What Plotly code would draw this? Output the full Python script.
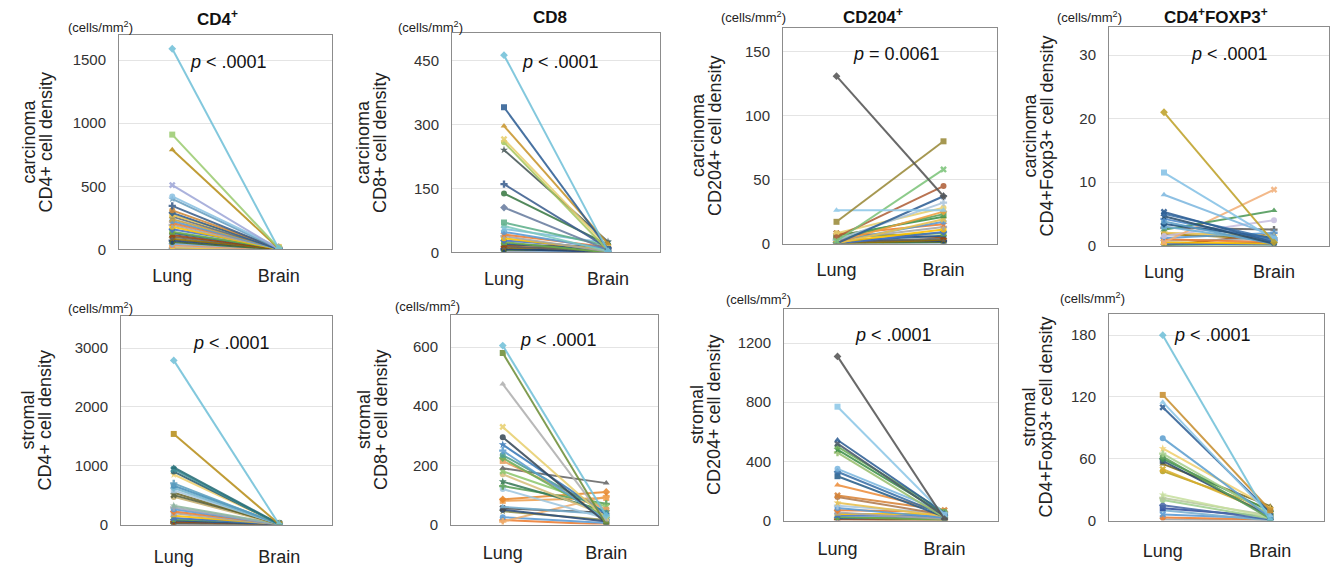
import plotly.graph_objects as go

W, H = 1332, 570
FONT = "Liberation Sans, Arial, sans-serif"

categories = ["Lung", "Brain"]

# ---------------- data (cells/mm2) ----------------
carc_cd4_lung = [1590, 910, 790, 510, 420, 400, 345, 310, 290, 275, 260, 240, 225, 210, 195, 180,
                 160, 140, 130, 115, 100, 85, 70, 60, 45, 35, 25, 15, 10, 5, 0, 0]
carc_cd4_brain = [5, 10, 8, 3, 15, 6, 2, 12, 4, 20, 7, 9, 3, 14, 5, 2,
                  18, 6, 10, 3, 8, 4, 12, 2, 6, 1, 3, 0, 5, 2, 0, 1]

carc_cd8_lung = [462, 340, 296, 265, 258, 240, 160, 138, 105, 70, 62, 55, 48, 42, 38, 33,
                 28, 24, 20, 17, 14, 11, 8, 6, 4, 2]
carc_cd8_brain = [3, 8, 20, 12, 5, 25, 10, 18, 6, 15, 3, 22, 8, 12, 2, 5,
                  10, 0, 7, 14, 3, 9, 1, 5, 2, 0]

carc_cd204_lung = [131, 17, 26, 2, 5, 0, 3, 8, 1, 4, 6, 0, 2, 7, 3, 1,
                   0, 5, 2, 8, 1, 0, 3, 0, 1, 2]
carc_cd204_brain = [37, 80, 26, 58, 45, 37, 32, 28, 25, 23, 21, 19, 17, 15, 13, 11,
                    9, 8, 6, 5, 4, 3, 2, 1, 0, 2]

carc_foxp3_lung = [21, 11.5, 8, 5.3, 5, 4.6, 4.2, 3.8, 3.4, 3, 2.5, 0.5, 1.5, 2, 1.2, 1,
                   0.8, 0.5, 0.3, 0, 0, 0, 2.8, 1.8]
carc_foxp3_brain = [0.5, 1, 1.5, 0.5, 1, 0.3, 0.8, 0.2, 1.2, 0.5, 5.5, 8.8, 4, 1.5, 2, 0.5,
                    1, 0.3, 0.1, 0, 0.5, 1.8, 2.5, 1]

strom_cd4_lung = [2790, 1540, 970, 940, 900, 850, 700, 660, 620, 580, 540, 500, 470, 320, 290, 260,
                  220, 190, 150, 110, 90, 70, 50, 30, 20, 10]
strom_cd4_brain = [0, 5, 10, 2, 8, 15, 3, 20, 6, 12, 4, 25, 7, 10, 3, 5,
                   15, 2, 8, 6, 30, 4, 10, 2, 5, 0]

strom_cd8_lung = [605, 580, 475, 330, 295, 270, 250, 235, 225, 215, 190, 180, 170, 145, 130, 120,
                  85, 80, 60, 55, 50, 45, 10, 25, 15]
strom_cd8_brain = [30, 0, 10, 20, 5, 35, 15, 40, 25, 50, 140, 60, 30, 45, 70, 20,
                   110, 90, 35, 40, 10, 15, 95, 5, 0]

strom_cd204_lung = [1110, 770, 545, 520, 500, 480, 460, 350, 330, 300, 240, 170, 160, 120, 100, 85,
                    70, 55, 45, 35, 25, 15, 8]
strom_cd204_brain = [10, 40, 50, 30, 60, 45, 20, 55, 35, 25, 65, 70, 40, 30, 50, 20,
                     60, 10, 45, 30, 5, 15, 0]

strom_foxp3_lung = [180, 122, 115, 110, 80, 70, 65, 62, 60, 58, 55, 50, 48, 25, 22, 20,
                    15, 12, 10, 6, 3, 1]
strom_foxp3_brain = [0, 10, 5, 8, 3, 12, 6, 2, 9, 4, 14, 7, 11, 3, 5, 2,
                     1, 4, 0, 2, 1, 0]

panel_titles = ["CD4<sup>+</sup>", "CD8", "CD204<sup>+</sup>", "CD4<sup>+</sup>FOXP3<sup>+</sup>",
                "", "", "", ""]
p_labels = ["<i>p</i> &lt; .0001", "<i>p</i> &lt; .0001", "<i>p</i> = 0.0061", "<i>p</i> &lt; .0001",
            "<i>p</i> &lt; .0001", "<i>p</i> &lt; .0001", "<i>p</i> &lt; .0001", "<i>p</i> &lt; .0001"]
ytitle_top = ["carcinoma", "carcinoma", "carcinoma", "carcinoma", "stromal", "stromal", "stromal", "stromal"]
ytitle_bottom = ["CD4+ cell density", "CD8+ cell density", "CD204+ cell density", "CD4+Foxp3+ cell density"] * 2
tick_values = [[0, 500, 1000, 1500], [0, 150, 300, 450], [0, 50, 100, 150], [0, 10, 20, 30],
               [0, 1000, 2000, 3000], [0, 200, 400, 600], [0, 400, 800, 1200], [0, 60, 120, 180]]
y_max = [1703, 515, 169, 34.5, 3553, 710, 1433, 201]

panels = [
    (carc_cd4_lung, carc_cd4_brain), (carc_cd8_lung, carc_cd8_brain),
    (carc_cd204_lung, carc_cd204_brain), (carc_foxp3_lung, carc_foxp3_brain),
    (strom_cd4_lung, strom_cd4_brain), (strom_cd8_lung, strom_cd8_brain),
    (strom_cd204_lung, strom_cd204_brain), (strom_foxp3_lung, strom_foxp3_brain),
]

# ---------------- styles ----------------
CYCLE = ['#5b9bd5', '#ed7d31', '#a5a5a5', '#ffc000', '#4472c4', '#70ad47', '#255e91', '#9e480e',
         '#636363', '#997300', '#264478', '#43682b', '#7cafdd', '#f1975a', '#b7b7b7', '#ffcd33',
         '#698ed0', '#8cc168', '#2e75b6', '#c55a11']
LEADS = [
    ['#72c1d9', '#9ccc72', '#b8901c', '#a0a8d8', '#8ec2e2', '#6a9fc0', '#3d5f8a', '#d08a3a',
     '#2f5f95', '#e8c050', '#5f6f7f', '#c9a040'],
    ['#72c1d9', '#2f5f95', '#c9962e', '#e8d070', '#a8c860', '#4a5a5a', '#3f5f8f', '#3f7a4a',
     '#6a7fa0', '#5fb08a', '#7fc9c0', '#7fbfd9'],
    ['#555555', '#9a8a3a', '#8ec8e8', '#7dc47a', '#b0603a', '#2f5f95', '#aac4dc', '#e8d070',
     '#f0a040', '#5aa05a', '#3f8f4a', '#e8c050'],
    ['#bfa22a', '#86c2e6', '#7fb8e0', '#2f5f95', '#3a70a8', '#2a5070', '#4a86c8', '#5fa0c8',
     '#1f4f7f', '#6fb0d8', '#4f9a5a', '#f2b07a', '#c8c0e0', '#e8c050'],
    ['#72c1d9', '#b8901c', '#2a6f78', '#3f8f98', '#2f5f6f', '#f0d070', '#5fa0c0', '#4a90b8',
     '#78b8d0', '#a8c8e0', '#6f6a30', '#556040', '#c8b070', '#8fb8a0', '#a0a8b8'],
    ['#72c1d9', '#6f8f3a', '#b0b0b0', '#e8d070', '#3a4a5a', '#3a7ab8', '#5f9fd0', '#4f9f8f',
     '#6faf5a', '#e8a060', '#666666', '#8fc870', '#d8c080', '#3a7a5a', '#5aa05a', '#a0c8e0',
     '#e88a30', '#f0a050', '#7ab0d0', '#4a4a4a', '#2f4f7f', '#8f8f4f', '#f0b070'],
    ['#555555', '#8ec8e8', '#2f5f95', '#4a5a6a', '#6faf5a', '#3f8f4a', '#9ac070', '#7fb8e0',
     '#3a70a8', '#2a5f8a', '#ed8f40', '#d8843a', '#b07a50', '#e8c050', '#aac8e0'],
    ['#72c1d9', '#c89030', '#8ec8e8', '#2f5f95', '#5fa0d0', '#f0d070', '#a8d08d', '#5fa05a',
     '#3f8f5a', '#2f4f6f', '#7a6a20', '#d8b030', '#b8a020', '#c8e0a0', '#b8c8a0', '#a0d090',
     '#4a6aa8', '#2f4f9f', '#7ab0d0'],
]
SYMBOLS = ['diamond', 'square', 'triangle-up', 'x', 'circle', 'star', 'cross', 'circle']

# pixel boxes: (left, right, top, bottom)
boxes = [(119, 332, 35, 253), (452, 660, 33, 256), (783, 997, 28, 247), (1109, 1329, 27, 249),
         (121, 332, 320, 532), (451, 658, 319, 532), (784, 998, 313, 528), (1109, 1324, 318, 528)]
title_pos = [(217, 18), (550, 18), (873, 16), (1216, 16)]
unit_pos = [(100, 27), (430, 27), (753, 17), (1089, 17), (100, 312), (428, 310), (759, 303), (1092, 302)]
ytitle_x = [37, 372, 706, 1039, 37, 372, 705, 1038]
p_pos = [(228, 63), (560, 63), (896, 55), (1229, 55), (232, 348), (558, 345), (893, 340), (1212, 340)]
xlabel_standoff = [10, 10, 10, 10, 16, 12, 12, 14]


def ann(x, y, text, size, angle=0, color="#222"):
    return dict(x=x / W, y=1 - y / H, xref="paper", yref="paper", text=text,
                showarrow=False, textangle=angle, xanchor="center", yanchor="middle",
                font=dict(size=size, color=color, family=FONT))


fig = go.Figure()
annotations = []
for k, ((lung, brain), (l, r, t, b)) in enumerate(zip(panels, boxes)):
    n = len(lung)
    lead = LEADS[k]
    colors = lead + [CYCLE[i % len(CYCLE)] for i in range(max(0, n - len(lead)))]
    xa = "x" if k == 0 else f"x{k+1}"
    ya = "y" if k == 0 else f"y{k+1}"
    # draw smaller lines first so prominent lines sit on top
    for i in reversed(range(n)):
        fig.add_trace(go.Scatter(
            x=categories, y=[lung[i], brain[i]], xaxis=xa, yaxis=ya, mode="lines+markers",
            line=dict(color=colors[i], width=2),
            marker=dict(symbol=SYMBOLS[i % len(SYMBOLS)], size=6, color=colors[i],
                        line=dict(width=0)),
            opacity=0.88, showlegend=False, hoverinfo="skip"))
    dom_x = [l / W, r / W]
    dom_y = [1 - b / H, 1 - t / H]
    axis_common = dict(showline=True, linecolor="#8c8c8c", linewidth=1, mirror=True)
    fig.update_layout(**{
        ("xaxis" if k == 0 else f"xaxis{k+1}"): dict(
            domain=dom_x, anchor=ya, type="category", range=[-0.5, 1.5],
            showgrid=False, ticks="", tickfont=dict(size=18, color="#222", family=FONT),
            ticklabelstandoff=xlabel_standoff[k], **axis_common),
        ("yaxis" if k == 0 else f"yaxis{k+1}"): dict(
            domain=dom_y, anchor=xa, range=[0, y_max[k]], tickvals=tick_values[k],
            showgrid=True, gridcolor="#e4e4e4", gridwidth=1, zeroline=False, ticks="",
            tickfont=dict(size=15, color="#333", family=FONT), ticklabelstandoff=9,
            **axis_common),
    })
    if panel_titles[k]:
        tx, ty = title_pos[k]
        annotations.append(ann(tx, ty, f"<b>{panel_titles[k]}</b>", 17, color="#111"))
    ux, uy = unit_pos[k]
    annotations.append(ann(ux, uy, "(cells/mm<sup>2</sup>)", 13))
    cy = (t + b) / 2
    annotations.append(ann(ytitle_x[k] - 8.5, cy, ytitle_top[k], 18, angle=-90))
    annotations.append(ann(ytitle_x[k] + 8.5, cy, ytitle_bottom[k], 18, angle=-90))
    px_, py_ = p_pos[k]
    annotations.append(ann(px_, py_, p_labels[k], 18, color="#111"))

fig.update_layout(width=W, height=H, margin=dict(l=0, r=0, t=0, b=0),
                  paper_bgcolor="white", plot_bgcolor="white",
                  font=dict(family=FONT), annotations=annotations)
fig.write_html("out.html")
